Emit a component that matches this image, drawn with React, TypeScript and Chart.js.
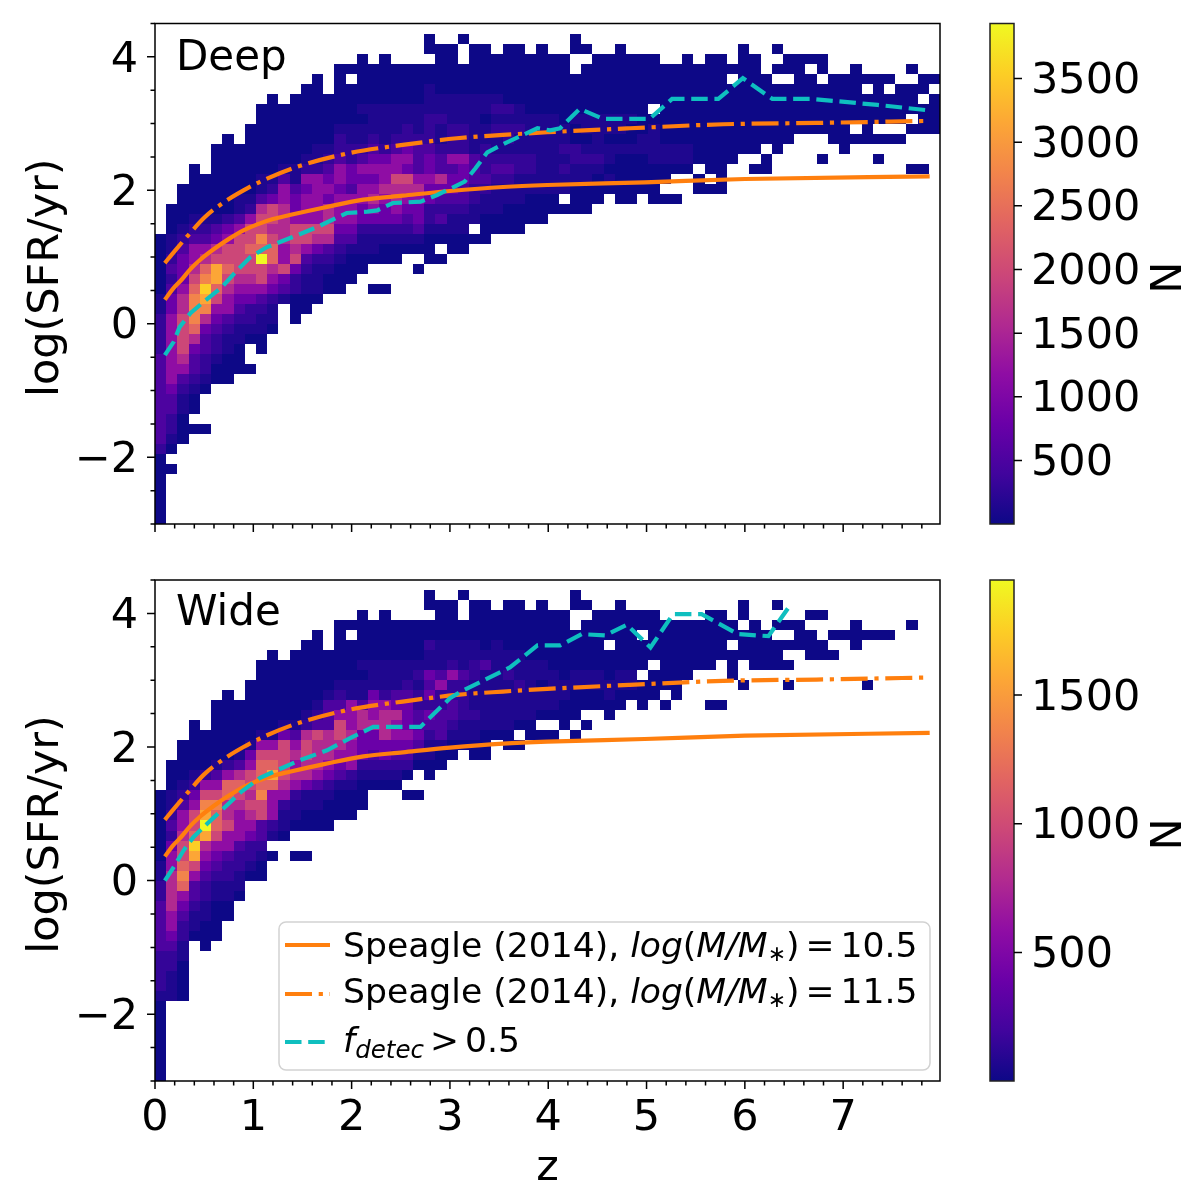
import React, { useEffect, useRef } from "react";
import { Chart, registerables } from "chart.js";

Chart.register(...registerables);

const FONT = '"DejaVu Sans"';
const TICK_SIZE = 43;

const zMax = 7.985;
const sfrMin = -3;
const sfrMax = 4.5;
const binColumns = 70;
const binRows = 50;

const zTicks = [0,0.2,0.4,0.6,0.8,1,1.2,1.4,1.6,1.8,2,2.2,2.4,2.6,2.8,3,3.2,3.4,3.6,3.8,4,4.2,4.4,4.6,4.8,5,5.2,5.4,5.6,5.8,6,6.2,6.4,6.6,6.8,7,7.2,7.4,7.6,7.8];
const sfrTicks = [-3,-2.5,-2,-1.5,-1,-0.5,0,0.5,1,1.5,2,2.5,3,3.5,4,4.5];
const sfrLabelled = [-2,0,2,4];
const deepBarTicks = [500,1000,1500,2000,2500,3000,3500];
const wideBarTicks = [500,1000,1500];
const deepBarRange = [1,3932];
const wideBarRange = [1,1947];

// colour-level (fraction of the colour bar) for each character used in the cell strings
const levelFractions: Record<string, number> = {"0":0,"1":0.035,"2":0.075,"3":0.13,"4":0.2,"5":0.3,"6":0.4,"7":0.5,"8":0.6,"9":0.7,a:0.8,b:0.9,c:1};
const plasma = ["#0d0887","#41049d","#6a00a8","#8f0da4","#b12a90","#cc4778","#e16462","#f2844b","#fca636","#fcce25","#f0f921"];

// first filled row (counted from the top) of every z bin
const deepStart = [21,18,16,14,15,12,11,12,10,8,7,8,7,6,5,7,4,4,3,4,3,4,4,4,1,2,2,1,2,2,3,2,2,3,2,3,3,1,2,3,3,2,3,3,3,4,4,3,4,3,3,4,2,3,5,2,3,3,3,3,5,5,4,5,5,5,6,4,5,5];
const deepCells = [
"00000011222233333333320000000",
"0001123234455555554332210.0",
"00001234445667777653211000",
"00000123556"+"78999864332100.0",
"0000123568"+"9ba964332210...0",
"000000013467aa8754322100",
"00000000"+"245778"+"76553211000",
"000001"+"1357777"+"6543211000",
"0000000"+"12577877"+"6542210..0",
"0000000"+"11"+"367798c7"+"75321100",
"00000000"+"1247767886"+"542110",
"000000"+"13556666557"+"431",
"0000000"+"11344577674"+"22000",
"0000000"+"125455577532"+"1100",
"0000000"+"1125555576421"+"110",
"00000"+"1234546676321"+"00",
"000000"+"122355455543210"+"00",
"0.0000"+"1122443555431000",
"00000"+"10112354554421100",
"0000"+"1112345456542110..0",
"00000"+"1111"+"245565442100..0",
"0000"+"1112"+"355766542100",
"0000"+"112245476543210",
"0000"+"111233356544310.0",
"00.00"+"111222344544221000",
"00000"+"112112336432310.0",
"00000"+"1112225344321100",
"0..000"+"1112225443321100",
"00000"+"111111"+"3332211.0",
"00000"+"110112223211000",
"0000"+"12121123211100",
"000000"+"2122123211000",
"000000"+"1121122111000",
"000000"+"11112211000",
"0000000"+"11111111"+"000",
"000000"+"11111111"+"00",
"000000"+"01121211"+".0",
"00..0000"+"1002211000",
"0.00000"+"1101211000",
"000000"+"111121000",
"000000"+"11011010",
"0000000"+"110100000",
"000000"+"100100000",
"000000"+"00110000",
"00000.011110000",
"000000001100.0",
"00000000110..0",
"000000000110",
"0000000000.00",
"000000000000.0",
"00000000000000",
"0.00000000",
"00000000000",
"0000000000.0",
"0000000.00",
"0.0.0000000",
"00.000000",
"00000000",
"0.000000",
"00.00000..0",
"0000000",
"00000000",
"000000.0",
"0.00000",
"00000.0.0",
"0.000.0",
"0000.0",
"0.000.0...0",
"00.000...0",
"0.0000",
];

const wideStart = [21,18,16,14,15,12,11,12,10,8,7,8,7,6,5,7,4,4,3,4,3,4,4,4,1,2,2,1,2,2,3,2,2,3,2,3,3,1,2,3,3,2,3,3,3,4,4,4,4,3,3,4,2,4,5,2,4,4,3,3,5,5,4,5,5,5,0,4,0,0];
const wideCells = [
"00000001122333332222100000000",
"0001123"+"24556666554322111",
"00001235"+"567789854322110000",
"000001245778ba75332110",
"0000"+"2579ac"+"a65432211000",
"0000001357988"+"75432110000",
"0000000"+"2588667"+"553221100",
"00000"+"13687655"+"5322110",
"000000"+"14577676542210",
"0000000"+"157888977332100",
"00000000"+"1578a855521.0",
"000000"+"147777652110",
"0000000"+"13565652110..0",
"0000000"+"126776641100..0",
"0000000"+"1237666531100",
"0000"+"13336665421000",
"000000"+"12357765431000",
"0.0000"+"11555655521000",
"00000"+"101136644421000",
"0000"+"1114556443210",
"00000"+"1112566644210",
"0000"+"1113465543210",
"0000"+"112344454320.0",
"0000"+"12122334310..0",
"00.00"+"21143424321100",
"0000"+"1113522333100",
"0000"+"112522332100",
"0..00"+"11132222110",
"0000"+"112211121100",
"00000"+"13111111000",
"000"+"1111111110",
"00000"+"1121111100",
"00000"+"11121110.0",
"00000"+"11111100",
"000000"+"110110.0",
"00000011110.0",
"000000011000",
"00..000011000.0",
"0.000001100.0",
"0000001100",
"000.0001100",
"00000001100",
"000000110",
"00.000.000",
"00000.000",
"0000000.0",
"00000000",
"000000",
"00000",
"000000...0",
"00000....0",
"00.000",
"00.000..0",
"00000",
"0000",
"0.0.000",
"0.0.0.0",
"000",
"0.000",
"0..00",
"0.0",
"0",
"000",
"0....0",
"0",
"0",
"",
"0",
"",
"",
];

const solidZ = [0.1,0.18,0.27,0.36,0.46,0.6,0.76,0.9,1.04,1.2,1.37,1.71,2.12,2.52,3,3.54,3.99,4.98,6,7.88];
const solidSfr = [0.36,0.52,0.66,0.82,0.96,1.12,1.28,1.4,1.49,1.57,1.63,1.74,1.86,1.92,1.99,2.05,2.08,2.12,2.17,2.21];
const dashDotZ = [0.1,0.2,0.34,0.5,0.69,0.9,1.1,1.44,1.98,2.52,3.07,3.54,3.99,4.83,5.78,6.73,7.86];
const dashDotSfr = [0.91,1.09,1.33,1.59,1.81,2,2.15,2.35,2.56,2.68,2.78,2.83,2.87,2.93,2.99,3.01,3.04];
const deepDetecZ = [0.1,0.19,0.25,0.36,0.48,0.68,0.81,0.97,1.14,1.4,1.65,1.95,2.16,2.26,2.42,2.7,2.87,3.15,3.26,3.38,3.58,3.89,4.02,4.12,4.32,4.56,5.03,5.26,5.73,5.98,6.28,6.68,7.35,7.86];
const deepDetecSfr = [-0.47,-0.27,-0.05,0.16,0.31,0.55,0.76,1,1.15,1.3,1.45,1.66,1.68,1.7,1.81,1.83,1.93,2.13,2.33,2.57,2.72,2.93,2.9,2.93,3.22,3.07,3.07,3.37,3.37,3.68,3.37,3.37,3.28,3.2];
const wideDetecZ = [0.1,0.19,0.29,0.39,0.53,0.87,1.07,1.3,1.47,1.75,1.98,2.22,2.7,3,3.1,3.61,3.89,4.12,4.34,4.58,4.8,5.04,5.27,5.56,5.93,6.24,6.46];
const wideDetecSfr = [0,0.2,0.45,0.65,0.85,1.32,1.54,1.69,1.8,1.95,2.13,2.3,2.3,2.73,2.82,3.19,3.52,3.52,3.69,3.67,3.83,3.49,3.99,3.99,3.69,3.66,4.12];

const legendLabels = ["Speagle (2014), ", "log", "(", "M/M", "∗", ")", "=", "10.5", "11.5", "f", "detec", ">", "0.5"];
const yAxisLabel = "log(SFR/yr)";
const barLabel = "N";

const ORANGE = "#ff7f0e";
const TEAL = "#0fbfbf";
const DASH_DOT = [27, 6.7, 4.2, 6.7];
const DASHED = [16.5, 6.7];
const WIDE_TOP = 556;

function plasmaColor(f: number) {
  const p = Math.max(0, Math.min(1, f)) * (plasma.length - 1);
  const i = Math.min(plasma.length - 2, Math.floor(p));
  const t = p - i;
  const a = parseInt(plasma[i].slice(1), 16);
  const b = parseInt(plasma[i + 1].slice(1), 16);
  const mix = (s: number) => Math.round(((a >> s) & 255) * (1 - t) + ((b >> s) & 255) * t);
  return `rgb(${mix(16)},${mix(8)},${mix(0)})`;
}

const zip = (xs: number[], ys: number[]) => xs.map((x, i) => ({ x, y: ys[i] }));
const isWhole = (v: number) => Math.abs(v - Math.round(v)) < 1e-6;
const noPadding = (s: any) => { s.paddingTop = 0; s.paddingBottom = 0; s.paddingLeft = 0; s.paddingRight = 0; };

function drawRuns(ctx: any, runs: { t: string; it?: boolean; size: number; dy?: number; gap?: number }[], x: number, y: number) {
  ctx.textAlign = "left";
  ctx.textBaseline = "alphabetic";
  let cx = x;
  for (const r of runs) {
    cx += r.gap || 0;
    ctx.font = `${r.it ? "italic " : ""}${r.size}px ${FONT}`;
    ctx.fillText(r.t, cx, y + (r.dy || 0));
    cx += ctx.measureText(r.t).width + (r.gap || 0);
  }
}

function drawVertical(ctx: any, text: string, x: number, y: number) {
  ctx.save();
  ctx.translate(x, y);
  ctx.rotate(-Math.PI / 2);
  ctx.fillStyle = "#000";
  ctx.font = `${TICK_SIZE}px ${FONT}`;
  ctx.textAlign = "center";
  ctx.textBaseline = "middle";
  ctx.fillText(text, 0, 0);
  ctx.restore();
}

function panelPlugin(title: string, titleY: number, start: number[], cells: string[], showLegend: boolean) {
  return {
    id: "panel",
    beforeDatasetsDraw(chart: any) {
      const { ctx, scales } = chart;
      const dz = zMax / binColumns;
      const dy = (sfrMax - sfrMin) / binRows;
      cells.forEach((col, c) => {
        for (let k = 0; k < col.length; k++) {
          const ch = col[k];
          if (ch === ".") continue;
          const r = start[c] + k;
          const x0 = Math.round(scales.x.getPixelForValue(c * dz));
          const x1 = Math.round(scales.x.getPixelForValue((c + 1) * dz));
          const y0 = Math.round(scales.y.getPixelForValue(sfrMax - r * dy));
          const y1 = Math.round(scales.y.getPixelForValue(sfrMax - (r + 1) * dy));
          ctx.fillStyle = plasmaColor(levelFractions[ch]);
          ctx.fillRect(x0, y0, x1 - x0, y1 - y0);
        }
      });
    },
    afterDatasetsDraw(chart: any) {
      const { ctx, chartArea: a, scales } = chart;
      ctx.save();
      if (showLegend) {
        ctx.save();
        ctx.translate(0, -WIDE_TOP);
        const box = { x: 279, y: 922, w: 651, h: 148 };
        ctx.beginPath();
        ctx.roundRect(box.x, box.y, box.w, box.h, 7);
        ctx.fillStyle = "rgba(255,255,255,0.8)";
        ctx.fill();
        ctx.strokeStyle = "#d2d2d2";
        ctx.lineWidth = 1.5;
        ctx.stroke();
        const handle = (y: number, color: string, dash: number[]) => {
          ctx.beginPath();
          ctx.setLineDash(dash);
          ctx.strokeStyle = color;
          ctx.lineWidth = 4.2;
          ctx.moveTo(285, y);
          ctx.lineTo(330, y);
          ctx.stroke();
          ctx.setLineDash([]);
        };
        handle(945, ORANGE, []);
        handle(994, ORANGE, DASH_DOT);
        handle(1042, TEAL, DASHED);
        ctx.fillStyle = "#000";
        const S = 34.6;
        const speagle = (v: string, y: number) =>
          drawRuns(ctx, [
            { t: legendLabels[0], size: S },
            { t: legendLabels[1], it: true, size: S },
            { t: legendLabels[2], size: S },
            { t: legendLabels[3], it: true, size: S },
            { t: legendLabels[4], size: 22, dy: 4 },
            { t: legendLabels[5], size: S },
            { t: legendLabels[6], size: S, gap: 6 },
            { t: v, size: S },
          ], 343, y);
        speagle(legendLabels[7], 957);
        speagle(legendLabels[8], 1003);
        drawRuns(ctx, [
          { t: legendLabels[9], it: true, size: S },
          { t: legendLabels[10], it: true, size: 24.5, dy: 6 },
          { t: legendLabels[11], size: S, gap: 6 },
          { t: legendLabels[12], size: S },
        ], 343, 1052);
        ctx.restore();
      }
      // frame and tick marks
      ctx.strokeStyle = "#000";
      ctx.lineWidth = 1.5;
      ctx.strokeRect(a.left, a.top, a.right - a.left, a.bottom - a.top);
      ctx.beginPath();
      scales.x.ticks.forEach((t: any) => {
        const x = scales.x.getPixelForValue(t.value);
        ctx.moveTo(x, a.bottom);
        ctx.lineTo(x, a.bottom + (isWhole(t.value) ? 8 : 4.5));
      });
      scales.y.ticks.forEach((t: any) => {
        const y = scales.y.getPixelForValue(t.value);
        ctx.moveTo(a.left, y);
        ctx.lineTo(a.left - (sfrLabelled.includes(t.value) ? 8 : 4.5), y);
      });
      ctx.stroke();
      ctx.fillStyle = "#000";
      ctx.font = `42px ${FONT}`;
      ctx.textAlign = "left";
      ctx.textBaseline = "alphabetic";
      ctx.fillText(title, 176, titleY);
      drawVertical(ctx, yAxisLabel, 47, (a.top + a.bottom) / 2 + 4);
      ctx.restore();
    },
  };
}

const barPlugin = {
  id: "bar",
  beforeDatasetsDraw(chart: any) {
    const { ctx, chartArea: a, scales } = chart;
    const g = ctx.createLinearGradient(0, a.bottom, 0, a.top);
    plasma.forEach((c, i) => g.addColorStop(i / (plasma.length - 1), c));
    ctx.fillStyle = g;
    ctx.fillRect(a.left, a.top, a.right - a.left, a.bottom - a.top);
    ctx.strokeStyle = "#222";
    ctx.lineWidth = 1.5;
    ctx.strokeRect(a.left, a.top, a.right - a.left, a.bottom - a.top);
    ctx.beginPath();
    scales.y.ticks.forEach((t: any) => {
      const y = scales.y.getPixelForValue(t.value);
      ctx.moveTo(a.right, y);
      ctx.lineTo(a.right + 8, y);
    });
    ctx.strokeStyle = "#000";
    ctx.stroke();
    drawVertical(ctx, barLabel, 210, (a.top + a.bottom) / 2 + 4);
  },
};

function mainConfig(opts: { title: string; titleY: number; top: number; xH: number; start: number[]; cells: string[]; detecZ: number[]; detecSfr: number[]; legend: boolean; xLabels: boolean }) {
  const line = { showLine: true, pointRadius: 0, borderWidth: 4.2, fill: false };
  return {
    type: "scatter",
    data: {
      datasets: [
        { ...line, label: "Speagle (2014), log(M/M*) = 10.5", data: zip(solidZ, solidSfr), borderColor: ORANGE, cubicInterpolationMode: "monotone", order: 3 },
        { ...line, label: "Speagle (2014), log(M/M*) = 11.5", data: zip(dashDotZ, dashDotSfr), borderColor: ORANGE, borderDash: DASH_DOT, cubicInterpolationMode: "monotone", order: 2 },
        { ...line, label: "f_detec > 0.5", data: zip(opts.detecZ, opts.detecSfr), borderColor: TEAL, borderDash: DASHED, order: 1 },
      ],
    },
    plugins: [panelPlugin(opts.title, opts.titleY, opts.start, opts.cells, opts.legend)],
    options: {
      responsive: false,
      animation: false,
      devicePixelRatio: 1,
      layout: { padding: { top: opts.top, right: 20, left: 0, bottom: 0 } },
      plugins: { legend: { display: false }, tooltip: { enabled: false }, title: { display: false } },
      scales: {
        x: {
          type: "linear", min: 0, max: zMax,
          grid: { display: false, drawTicks: false }, border: { display: false },
          afterBuildTicks: (s: any) => { s.ticks = zTicks.map((value) => ({ value })); },
          afterFit: (s: any) => { s.height = opts.xH; noPadding(s); },
          ticks: {
            display: opts.xLabels, autoSkip: false, maxRotation: 0, minRotation: 0, padding: 12, color: "#000",
            font: { family: FONT, size: TICK_SIZE },
            callback: (v: number) => (isWhole(v) ? String(Math.round(v)) : ""),
          },
          title: { display: opts.xLabels, text: "z", color: "#000", font: { family: FONT, size: TICK_SIZE }, padding: { top: 0, bottom: 4 } },
        },
        y: {
          type: "linear", min: sfrMin, max: sfrMax,
          grid: { display: false, drawTicks: false }, border: { display: false },
          afterBuildTicks: (s: any) => { s.ticks = sfrTicks.map((value) => ({ value })); },
          afterFit: (s: any) => { s.width = 155; noPadding(s); },
          ticks: {
            autoSkip: false, padding: 17, labelOffset: 3.5, color: "#000",
            font: { family: FONT, size: TICK_SIZE },
            callback: (v: number) => (sfrLabelled.includes(v) ? String(v).replace("-", "\u2212") : ""),
          },
        },
      },
    },
  };
}

function barConfig(opts: { top: number; bottom: number; range: number[]; ticks: number[] }) {
  return {
    type: "scatter",
    data: { datasets: [{ label: "N", data: [] as any[] }] },
    plugins: [barPlugin],
    options: {
      responsive: false,
      animation: false,
      devicePixelRatio: 1,
      layout: { padding: { top: opts.top, bottom: opts.bottom, left: 30, right: 0 } },
      plugins: { legend: { display: false }, tooltip: { enabled: false } },
      scales: {
        x: { display: false, min: 0, max: 1 },
        y: {
          type: "linear", position: "right", min: opts.range[0], max: opts.range[1],
          grid: { display: false, drawTicks: false }, border: { display: false },
          afterBuildTicks: (s: any) => { s.ticks = opts.ticks.map((value) => ({ value })); },
          afterFit: (s: any) => { s.width = 186; noPadding(s); },
          ticks: { autoSkip: false, padding: 17, labelOffset: 3.5, color: "#000", font: { family: FONT, size: TICK_SIZE }, callback: (v: number) => String(v) },
        },
      },
    },
  };
}

function Panel({ left, top, width, height, config }: { left: number; top: number; width: number; height: number; config: any }) {
  const ref = useRef<HTMLCanvasElement>(null);
  useEffect(() => {
    const chart = new Chart(ref.current as any, config);
    return () => chart.destroy();
  }, []);
  return (
    <div style={{ position: "absolute", left, top, width, height }}>
      <canvas ref={ref} width={width} height={height} style={{ width, height }} />
    </div>
  );
}

export default function App() {
  return (
    <div style={{ position: "absolute", left: 0, top: 0, width: 1200, height: 1187, background: "#fff", overflow: "hidden" }}>
      <Panel left={0} top={0} width={960} height={560} config={mainConfig({ title: "Deep", titleY: 70, top: 23.5, xH: 36, start: deepStart, cells: deepCells, detecZ: deepDetecZ, detecSfr: deepDetecSfr, legend: false, xLabels: false })} />
      <Panel left={0} top={WIDE_TOP} width={960} height={643} config={mainConfig({ title: "Wide", titleY: 69, top: 24, xH: 118, start: wideStart, cells: wideCells, detecZ: wideDetecZ, detecSfr: wideDetecSfr, legend: true, xLabels: true })} />
      <Panel left={960} top={0} width={240} height={560} config={barConfig({ top: 23.5, bottom: 36, range: deepBarRange, ticks: deepBarTicks })} />
      <Panel left={960} top={WIDE_TOP} width={240} height={631} config={barConfig({ top: 24, bottom: 106, range: wideBarRange, ticks: wideBarTicks })} />
    </div>
  );
}
